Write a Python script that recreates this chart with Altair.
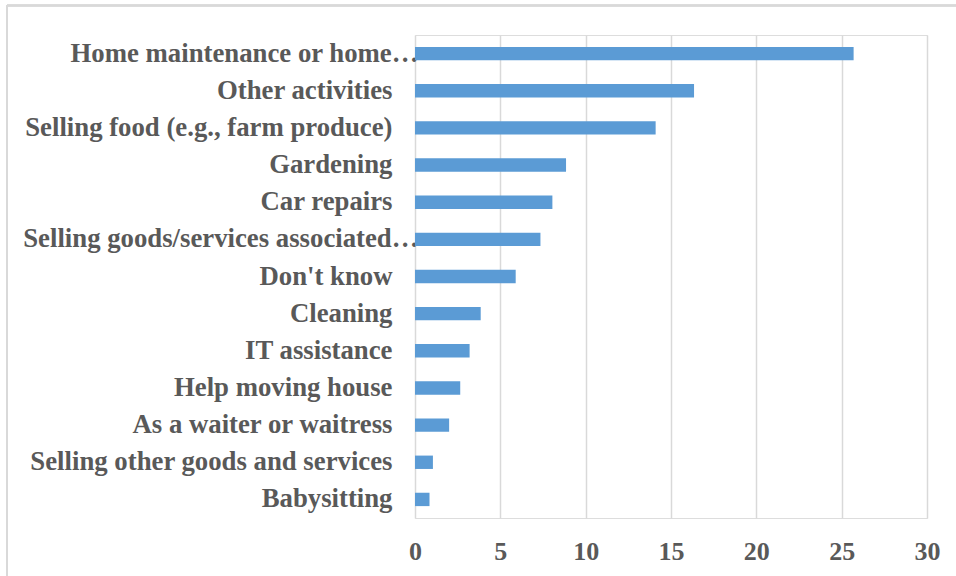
import altair as alt
import pandas as pd

categories = [
    "Home maintenance or home\u2026",
    "Other activities",
    "Selling food (e.g., farm produce)",
    "Gardening",
    "Car repairs",
    "Selling goods/services associated\u2026",
    "Don't know",
    "Cleaning",
    "IT assistance",
    "Help moving house",
    "As a waiter or waitress",
    "Selling other goods and services",
    "Babysitting",
]
values = [25.7, 16.35, 14.1, 8.85, 8.05, 7.35, 5.9, 3.85, 3.2, 2.65, 2.0, 1.05, 0.85]
x_ticks = [0, 5, 10, 15, 20, 25, 30]

df = pd.DataFrame({"category": categories, "value": values})

FONT = "Liberation Serif"
TXT = "#595959"
GRID = "#d9d9d9"

bars = alt.Chart(df).mark_bar(color="#5B9BD5").encode(
    x=alt.X(
        "value:Q",
        scale=alt.Scale(domain=[0, 30], nice=False),
        axis=alt.Axis(
            values=x_ticks,
            title=None,
            grid=True,
            gridColor=GRID,
            gridWidth=1.5,
            domain=False,
            ticks=False,
            labelFont=FONT,
            labelFontWeight="bold",
            labelFontSize=26,
            labelColor=TXT,
            labelPadding=20,
            labelFlush=False,
        ),
    ),
    y=alt.Y(
        "category:N",
        sort=categories,
        scale=alt.Scale(paddingInner=0.64, paddingOuter=0.32),
        axis=alt.Axis(
            title=None,
            domain=False,
            ticks=False,
            grid=False,
            labelFont=FONT,
            labelFontWeight="bold",
            labelFontSize=26.75,
            labelColor=TXT,
            labelLimit=500,
            labelPadding={"condition": {"test": "indexof(datum.value, '\u2026') >= 0", "value": -3}, "value": 23},
        ),
    ),
)

border = alt.Chart(df).mark_rule(color=GRID, strokeWidth=1.5).encode(
    x=alt.value(-408), x2=alt.value(-408), y=alt.value(-29.5), y2=alt.value(560)
)
border_top = alt.Chart(df).mark_rule(color=GRID, strokeWidth=1.5).encode(
    x=alt.value(-408), x2=alt.value(560), y=alt.value(-29.5), y2=alt.value(-29.5)
)

chart = alt.layer(border, border_top, bars).properties(
    width=512,
    height=483,
    autosize=alt.AutoSizeParams(type="none"),
    padding={"left": 415, "top": 35, "right": 29, "bottom": 58},
).configure_view(stroke=None).configure(background="white")

chart.save("out.html", embed_options={"renderer": "svg", "actions": False})
